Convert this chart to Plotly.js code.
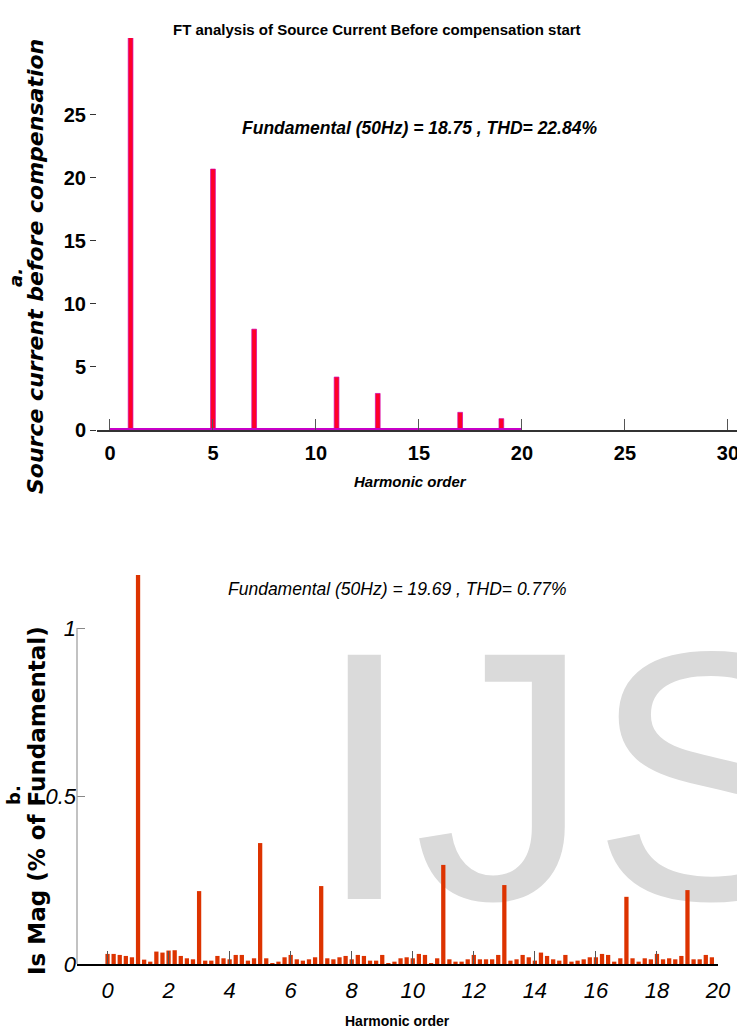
<!DOCTYPE html>
<html>
<head>
<meta charset="utf-8">
<script src="https://cdn.plot.ly/plotly-3.0.1.min.js"></script>
<style>html,body{margin:0;padding:0;background:#fff;}#chart{width:737px;height:1034px;}</style>
</head>
<body>
<div id="chart"></div>
<script>
// ---- data: panel a (source current before compensation, % of fundamental) ----
const topHarmonics = [1, 5, 7, 11, 13, 17, 19];
const topValues    = [100, 20.7, 8.0, 4.2, 2.9, 1.4, 0.9];
const topZeroSpan  = [0, 20];          // harmonic span of the zero-valued bins
const topZeroLevel = [0, 0];
const topTicks     = [0, 5, 10, 15, 20, 25, 30];

// ---- data: panel b (Is magnitude after compensation, % of fundamental) ----
const bottomHarmonics = [
  0.0,0.2,0.4,0.6,0.8,1.0,1.2,1.4,1.6,1.8,
  2.0,2.2,2.4,2.6,2.8,3.0,3.2,3.4,3.6,3.8,
  4.0,4.2,4.4,4.6,4.8,5.0,5.2,5.4,5.6,5.8,
  6.0,6.2,6.4,6.6,6.8,7.0,7.2,7.4,7.6,7.8,
  8.0,8.2,8.4,8.6,8.8,9.0,9.2,9.4,9.6,9.8,
  10.0,10.2,10.4,10.6,10.8,11.0,11.2,11.4,11.6,11.8,
  12.0,12.2,12.4,12.6,12.8,13.0,13.2,13.4,13.6,13.8,
  14.0,14.2,14.4,14.6,14.8,15.0,15.2,15.4,15.6,15.8,
  16.0,16.2,16.4,16.6,16.8,17.0,17.2,17.4,17.6,17.8,
  18.0,18.2,18.4,18.6,18.8,19.0,19.2,19.4,19.6,19.8
];
const bottomValues = [
  0.030,0.030,0.027,0.024,0.020,100,0.013,0.007,0.037,0.034,
  0.040,0.041,0.024,0.017,0.014,0.217,0.010,0.010,0.024,0.017,
  0.014,0.027,0.027,0.010,0.017,0.360,0.017,0.003,0.007,0.020,
  0.027,0.014,0.010,0.014,0.020,0.232,0.017,0.014,0.020,0.024,
  0.014,0.027,0.024,0.010,0.010,0.027,0.003,0.007,0.017,0.020,
  0.017,0.030,0.027,0.003,0.017,0.295,0.014,0.007,0.007,0.014,
  0.027,0.014,0.014,0.014,0.027,0.235,0.010,0.014,0.027,0.020,
  0.010,0.034,0.024,0.014,0.010,0.027,0.007,0.010,0.014,0.020,
  0.020,0.030,0.027,0.007,0.017,0.200,0.017,0.007,0.017,0.014,
  0.030,0.014,0.017,0.014,0.024,0.220,0.014,0.014,0.027,0.020
];
const bottomTicks = [0, 2, 4, 6, 8, 10, 12, 14, 16, 18, 20];
const bottomYTicks = [0, 0.5, 1];
const bottomYTickText = ['0', '0.5', '1'];

// ---- layout helpers (pixel -> paper) ----
const W = 737, H = 1034;
const px = v => v / W;
const py = v => 1 - v / H;
const NARROW = '"Liberation Sans Narrow", "Arial Narrow", "Liberation Sans", Arial, sans-serif';
const WIDE = '"DejaVu Sans", Verdana, sans-serif';
const ARIAL = '"Liberation Sans", Arial, sans-serif';

const traces = [
  {
    type: 'bar', x: topHarmonics, y: topValues, xaxis: 'x', yaxis: 'y',
    width: 0.23,
    marker: {color: '#ff0028', line: {color: '#d000b0', width: 0.7}},
    hoverinfo: 'x+y'
  },
  {
    type: 'scatter', mode: 'lines', x: topZeroSpan, y: topZeroLevel, xaxis: 'x', yaxis: 'y',
    line: {color: '#c800c8', width: 4}, hoverinfo: 'skip'
  },
  {
    type: 'bar', x: bottomHarmonics, y: bottomValues, xaxis: 'x2', yaxis: 'y2',
    width: 0.14,
    marker: {color: '#dd3300', line: {width: 0}},
    hoverinfo: 'x+y'
  }
];

const layout = {
  width: W, height: H,
  margin: {l: 0, r: 0, t: 0, b: 0, pad: 0},
  paper_bgcolor: '#ffffff', plot_bgcolor: 'rgba(0,0,0,0)',
  showlegend: false,
  xaxis: {
    domain: [px(97), 1], anchor: 'y',
    range: [-0.63, 30.44],
    tickmode: 'array', tickvals: topTicks,
    ticks: 'inside', ticklen: 11, tickwidth: 1, tickcolor: '#555',
    showline: true, linecolor: '#333', linewidth: 1.5,
    showgrid: false, zeroline: false,
    ticklabelstandoff: 4, ticklabeloverflow: 'allow',
    tickfont: {family: NARROW, size: 20, weight: 'bold', color: '#000'}
  },
  yaxis: {
    domain: [py(430), py(38)], anchor: 'x',
    range: [0, 31.1],
    tickmode: 'array', tickvals: [0, 5, 10, 15, 20, 25],
    ticks: 'outside', ticklen: 6, tickwidth: 1, tickcolor: '#333',
    showline: false, showgrid: false, zeroline: false,
    tickfont: {family: NARROW, size: 20, weight: 'bold', color: '#000'}
  },
  xaxis2: {
    domain: [px(77), px(718)], anchor: 'y2',
    range: [-1.0, 20.0],
    tickmode: 'array', tickvals: bottomTicks,
    ticks: 'inside', ticklen: 13, tickwidth: 1, tickcolor: '#555',
    showline: true, linecolor: '#000', linewidth: 1.5,
    showgrid: false, zeroline: false,
    ticklabelstandoff: 6, ticklabeloverflow: 'allow',
    tickfont: {family: NARROW, size: 22, style: 'italic', color: '#000'}
  },
  yaxis2: {
    domain: [py(964), py(575)], anchor: 'x2',
    range: [0, 1.158],
    tickmode: 'array', tickvals: bottomYTicks, ticktext: bottomYTickText,
    ticks: 'inside', ticklen: 8, tickwidth: 1, tickcolor: '#888',
    showline: false, showgrid: false, zeroline: false,
    tickfont: {family: NARROW, size: 22, style: 'italic', color: '#000'}
  },
  shapes: [
    // watermark, drawn beneath the bars
    {type: 'rect', xref: 'paper', yref: 'paper',
     x0: px(312), x1: px(1100), y0: py(865), y1: py(619),
     line: {width: 0}, fillcolor: 'rgba(0,0,0,0)', layer: 'below',
     label: {text: 'IJS', textposition: 'middle left', padding: 0,
             font: {family: ARIAL, size: 355, color: '#dadada'}}},
    {type: 'line', xref: 'x2 domain', yref: 'y2', x0: 0, x1: 0, y0: 0, y1: 1,
     line: {color: '#999', width: 1.2}, layer: 'above'}
  ],
  annotations: [
    {xref: 'paper', yref: 'paper', x: px(377), y: py(30), xanchor: 'center', yanchor: 'middle',
     text: 'FT analysis of Source Current Before compensation start', showarrow: false,
     font: {family: NARROW, size: 15, weight: 'bold', color: '#000'}},
    {xref: 'paper', yref: 'paper', x: px(420), y: py(128), xanchor: 'center', yanchor: 'middle',
     text: 'Fundamental (50Hz) = 18.75 , THD= 22.84%', showarrow: false,
     font: {family: NARROW, size: 17.5, weight: 'bold', style: 'italic', color: '#000'}},
    {xref: 'paper', yref: 'paper', x: px(410), y: py(481), xanchor: 'center', yanchor: 'middle',
     text: 'Harmonic order', showarrow: false,
     font: {family: NARROW, size: 15, weight: 'bold', style: 'italic', color: '#000'}},
    {xref: 'paper', yref: 'paper', x: px(15), y: py(278), xanchor: 'center', yanchor: 'middle',
     text: 'a.', textangle: -90, showarrow: false,
     font: {family: WIDE, size: 18, weight: 'bold', style: 'italic', color: '#000'}},
    {xref: 'paper', yref: 'paper', x: px(35), y: py(267), xanchor: 'center', yanchor: 'middle',
     text: 'Source current before compensation', textangle: -90, showarrow: false,
     font: {family: WIDE, size: 22, weight: 'bold', style: 'italic', color: '#000'}},
    {xref: 'paper', yref: 'paper', x: px(397), y: py(589), xanchor: 'center', yanchor: 'middle',
     text: 'Fundamental (50Hz) = 19.69 , THD= 0.77%', showarrow: false,
     font: {family: NARROW, size: 17.5, style: 'italic', color: '#000'}},
    {xref: 'paper', yref: 'paper', x: px(397), y: py(1021), xanchor: 'center', yanchor: 'middle',
     text: 'Harmonic order', showarrow: false,
     font: {family: NARROW, size: 14, weight: 'bold', color: '#000'}},
    {xref: 'paper', yref: 'paper', x: px(13), y: py(795), xanchor: 'center', yanchor: 'middle',
     text: 'b.', textangle: -90, showarrow: false,
     font: {family: WIDE, size: 18, weight: 'bold', color: '#000'}},
    {xref: 'paper', yref: 'paper', x: px(37), y: py(801), xanchor: 'center', yanchor: 'middle',
     text: 'Is Mag (% of Fundamental)', textangle: -90, showarrow: false,
     font: {family: WIDE, size: 23, weight: 'bold', color: '#000'}}
  ]
};

Plotly.newPlot('chart', traces, layout, {staticPlot: true, displayModeBar: false});
</script>
</body>
</html>
